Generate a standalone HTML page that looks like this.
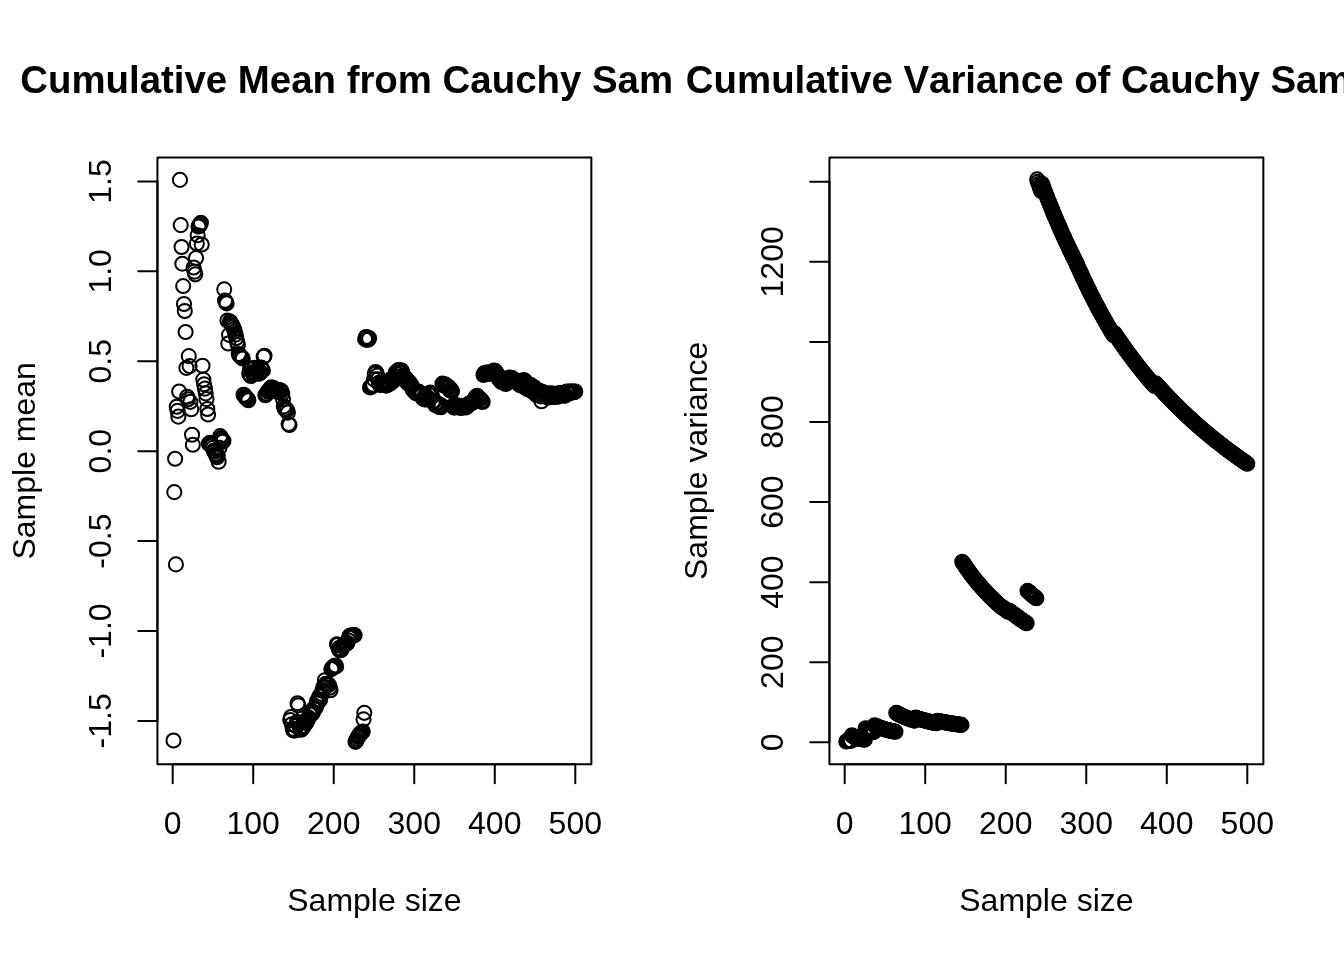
<!DOCTYPE html><html><head><meta charset="utf-8"><title>Cauchy</title><style>
html,body{margin:0;padding:0;background:#fff}svg{display:block;will-change:transform}
text{font-family:"Liberation Sans",sans-serif;fill:#000;font-kerning:none}
.a{font-size:32px}.t{font-size:38.4px;font-weight:bold}
.l{stroke:#000;stroke-width:2;fill:none;stroke-linecap:round;stroke-linejoin:round}
.p circle{stroke:#000;stroke-width:2;fill:none}
</style></head><body>
<svg width="1344" height="960" viewBox="0 0 1344 960">
<rect width="1344" height="960" fill="#fff"/>
<defs><clipPath id="c1"><rect x="0" y="0" width="672" height="960"/></clipPath><clipPath id="c2"><rect x="672" y="0" width="672" height="960"/></clipPath></defs>
<g class="p">
<circle cx="173.51" cy="740.46" r="7.05"/>
<circle cx="174.31" cy="492.13" r="7.05"/>
<circle cx="175.12" cy="458.72" r="7.05"/>
<circle cx="175.92" cy="564.38" r="7.05"/>
<circle cx="176.73" cy="406.80" r="7.05"/>
<circle cx="177.53" cy="410.87" r="7.05"/>
<circle cx="178.34" cy="416.64" r="7.05"/>
<circle cx="179.14" cy="391.54" r="7.05"/>
<circle cx="179.95" cy="179.88" r="7.05"/>
<circle cx="180.75" cy="225.10" r="7.05"/>
<circle cx="181.56" cy="246.99" r="7.05"/>
<circle cx="182.36" cy="263.68" r="7.05"/>
<circle cx="183.17" cy="286.07" r="7.05"/>
<circle cx="183.97" cy="303.95" r="7.05"/>
<circle cx="184.78" cy="310.99" r="7.05"/>
<circle cx="185.58" cy="331.94" r="7.05"/>
<circle cx="186.39" cy="367.88" r="7.05"/>
<circle cx="187.19" cy="396.78" r="7.05"/>
<circle cx="188.00" cy="399.31" r="7.05"/>
<circle cx="188.80" cy="356.14" r="7.05"/>
<circle cx="189.61" cy="366.08" r="7.05"/>
<circle cx="190.41" cy="401.83" r="7.05"/>
<circle cx="191.22" cy="409.24" r="7.05"/>
<circle cx="192.02" cy="434.70" r="7.05"/>
<circle cx="192.83" cy="444.82" r="7.05"/>
<circle cx="193.63" cy="267.47" r="7.05"/>
<circle cx="194.44" cy="271.62" r="7.05"/>
<circle cx="195.24" cy="274.33" r="7.05"/>
<circle cx="196.05" cy="258.08" r="7.05"/>
<circle cx="196.86" cy="243.45" r="7.05"/>
<circle cx="197.66" cy="235.32" r="7.05"/>
<circle cx="198.47" cy="226.47" r="7.05"/>
<circle cx="199.27" cy="225.75" r="7.05"/>
<circle cx="200.08" cy="224.31" r="7.05"/>
<circle cx="200.88" cy="222.75" r="7.05"/>
<circle cx="201.69" cy="244.53" r="7.05"/>
<circle cx="202.49" cy="365.81" r="7.05"/>
<circle cx="203.30" cy="379.62" r="7.05"/>
<circle cx="204.10" cy="384.32" r="7.05"/>
<circle cx="204.91" cy="388.65" r="7.05"/>
<circle cx="205.71" cy="393.35" r="7.05"/>
<circle cx="206.52" cy="399.13" r="7.05"/>
<circle cx="207.32" cy="409.06" r="7.05"/>
<circle cx="208.13" cy="414.48" r="7.05"/>
<circle cx="208.93" cy="443.73" r="7.05"/>
<circle cx="209.74" cy="442.83" r="7.05"/>
<circle cx="210.54" cy="444.28" r="7.05"/>
<circle cx="211.35" cy="446.08" r="7.05"/>
<circle cx="212.15" cy="445.00" r="7.05"/>
<circle cx="212.96" cy="447.89" r="7.05"/>
<circle cx="213.76" cy="450.60" r="7.05"/>
<circle cx="214.57" cy="451.50" r="7.05"/>
<circle cx="215.37" cy="453.67" r="7.05"/>
<circle cx="216.18" cy="455.11" r="7.05"/>
<circle cx="216.98" cy="457.28" r="7.05"/>
<circle cx="217.79" cy="455.47" r="7.05"/>
<circle cx="218.59" cy="461.79" r="7.05"/>
<circle cx="219.40" cy="447.89" r="7.05"/>
<circle cx="220.21" cy="436.15" r="7.05"/>
<circle cx="221.01" cy="437.95" r="7.05"/>
<circle cx="221.82" cy="439.58" r="7.05"/>
<circle cx="222.62" cy="441.75" r="7.05"/>
<circle cx="223.43" cy="440.75" r="7.05"/>
<circle cx="224.23" cy="289.32" r="7.05"/>
<circle cx="225.04" cy="300.61" r="7.05"/>
<circle cx="225.84" cy="301.96" r="7.05"/>
<circle cx="226.65" cy="303.41" r="7.05"/>
<circle cx="227.45" cy="320.49" r="7.05"/>
<circle cx="228.26" cy="343.50" r="7.05"/>
<circle cx="229.06" cy="334.83" r="7.05"/>
<circle cx="229.87" cy="321.47" r="7.05"/>
<circle cx="230.67" cy="322.37" r="7.05"/>
<circle cx="231.48" cy="323.88" r="7.05"/>
<circle cx="232.28" cy="325.38" r="7.05"/>
<circle cx="233.09" cy="326.89" r="7.05"/>
<circle cx="233.89" cy="329.05" r="7.05"/>
<circle cx="234.70" cy="331.22" r="7.05"/>
<circle cx="235.50" cy="334.65" r="7.05"/>
<circle cx="236.31" cy="338.08" r="7.05"/>
<circle cx="237.11" cy="341.88" r="7.05"/>
<circle cx="237.92" cy="344.95" r="7.05"/>
<circle cx="238.72" cy="353.98" r="7.05"/>
<circle cx="239.53" cy="355.42" r="7.05"/>
<circle cx="240.33" cy="356.14" r="7.05"/>
<circle cx="241.14" cy="356.69" r="7.05"/>
<circle cx="241.94" cy="357.59" r="7.05"/>
<circle cx="242.75" cy="358.49" r="7.05"/>
<circle cx="243.55" cy="394.69" r="7.05"/>
<circle cx="244.36" cy="395.22" r="7.05"/>
<circle cx="245.17" cy="396.95" r="7.05"/>
<circle cx="245.97" cy="397.80" r="7.05"/>
<circle cx="246.78" cy="398.33" r="7.05"/>
<circle cx="247.58" cy="398.94" r="7.05"/>
<circle cx="248.39" cy="400.31" r="7.05"/>
<circle cx="249.19" cy="373.83" r="7.05"/>
<circle cx="250.00" cy="368.38" r="7.05"/>
<circle cx="250.80" cy="376.00" r="7.05"/>
<circle cx="251.61" cy="368.53" r="7.05"/>
<circle cx="252.41" cy="373.03" r="7.05"/>
<circle cx="253.22" cy="374.09" r="7.05"/>
<circle cx="254.02" cy="372.32" r="7.05"/>
<circle cx="254.83" cy="367.81" r="7.05"/>
<circle cx="255.63" cy="373.21" r="7.05"/>
<circle cx="256.44" cy="369.63" r="7.05"/>
<circle cx="257.24" cy="371.34" r="7.05"/>
<circle cx="258.05" cy="369.61" r="7.05"/>
<circle cx="258.85" cy="373.61" r="7.05"/>
<circle cx="259.66" cy="373.43" r="7.05"/>
<circle cx="260.46" cy="371.95" r="7.05"/>
<circle cx="261.27" cy="367.63" r="7.05"/>
<circle cx="262.07" cy="369.62" r="7.05"/>
<circle cx="262.88" cy="370.40" r="7.05"/>
<circle cx="263.68" cy="356.69" r="7.05"/>
<circle cx="264.49" cy="355.78" r="7.05"/>
<circle cx="265.29" cy="395.27" r="7.05"/>
<circle cx="266.10" cy="394.45" r="7.05"/>
<circle cx="266.90" cy="393.68" r="7.05"/>
<circle cx="267.71" cy="391.33" r="7.05"/>
<circle cx="268.52" cy="391.74" r="7.05"/>
<circle cx="269.32" cy="389.88" r="7.05"/>
<circle cx="270.13" cy="389.12" r="7.05"/>
<circle cx="270.93" cy="387.63" r="7.05"/>
<circle cx="271.74" cy="389.20" r="7.05"/>
<circle cx="272.54" cy="387.50" r="7.05"/>
<circle cx="273.35" cy="390.30" r="7.05"/>
<circle cx="274.15" cy="389.73" r="7.05"/>
<circle cx="274.96" cy="389.05" r="7.05"/>
<circle cx="275.76" cy="390.13" r="7.05"/>
<circle cx="276.57" cy="391.63" r="7.05"/>
<circle cx="277.37" cy="390.02" r="7.05"/>
<circle cx="278.18" cy="389.95" r="7.05"/>
<circle cx="278.98" cy="390.71" r="7.05"/>
<circle cx="279.79" cy="390.04" r="7.05"/>
<circle cx="280.59" cy="391.87" r="7.05"/>
<circle cx="281.40" cy="390.98" r="7.05"/>
<circle cx="282.20" cy="393.71" r="7.05"/>
<circle cx="283.01" cy="399.13" r="7.05"/>
<circle cx="283.81" cy="406.35" r="7.05"/>
<circle cx="284.62" cy="408.52" r="7.05"/>
<circle cx="285.42" cy="409.24" r="7.05"/>
<circle cx="286.23" cy="409.60" r="7.05"/>
<circle cx="287.03" cy="409.96" r="7.05"/>
<circle cx="287.84" cy="412.67" r="7.05"/>
<circle cx="288.64" cy="424.05" r="7.05"/>
<circle cx="289.45" cy="424.95" r="7.05"/>
<circle cx="290.25" cy="720.05" r="7.05"/>
<circle cx="291.06" cy="716.98" r="7.05"/>
<circle cx="291.87" cy="724.21" r="7.05"/>
<circle cx="292.67" cy="728.72" r="7.05"/>
<circle cx="293.48" cy="730.53" r="7.05"/>
<circle cx="294.28" cy="729.62" r="7.05"/>
<circle cx="295.09" cy="730.53" r="7.05"/>
<circle cx="295.89" cy="726.01" r="7.05"/>
<circle cx="296.70" cy="722.40" r="7.05"/>
<circle cx="297.50" cy="703.26" r="7.05"/>
<circle cx="298.31" cy="705.24" r="7.05"/>
<circle cx="299.11" cy="722.40" r="7.05"/>
<circle cx="299.92" cy="727.82" r="7.05"/>
<circle cx="300.72" cy="729.62" r="7.05"/>
<circle cx="301.53" cy="729.44" r="7.05"/>
<circle cx="302.33" cy="727.71" r="7.05"/>
<circle cx="303.14" cy="726.65" r="7.05"/>
<circle cx="303.94" cy="726.26" r="7.05"/>
<circle cx="304.75" cy="722.75" r="7.05"/>
<circle cx="305.55" cy="720.96" r="7.05"/>
<circle cx="306.36" cy="722.69" r="7.05"/>
<circle cx="307.16" cy="720.38" r="7.05"/>
<circle cx="307.97" cy="719.00" r="7.05"/>
<circle cx="308.77" cy="717.58" r="7.05"/>
<circle cx="309.58" cy="713.71" r="7.05"/>
<circle cx="310.38" cy="713.02" r="7.05"/>
<circle cx="311.19" cy="714.57" r="7.05"/>
<circle cx="311.99" cy="712.21" r="7.05"/>
<circle cx="312.80" cy="712.69" r="7.05"/>
<circle cx="313.60" cy="708.64" r="7.05"/>
<circle cx="314.41" cy="709.09" r="7.05"/>
<circle cx="315.22" cy="708.05" r="7.05"/>
<circle cx="316.02" cy="707.05" r="7.05"/>
<circle cx="316.83" cy="701.34" r="7.05"/>
<circle cx="317.63" cy="703.18" r="7.05"/>
<circle cx="318.44" cy="700.80" r="7.05"/>
<circle cx="319.24" cy="696.34" r="7.05"/>
<circle cx="320.05" cy="699.69" r="7.05"/>
<circle cx="320.85" cy="695.92" r="7.05"/>
<circle cx="321.66" cy="693.80" r="7.05"/>
<circle cx="322.46" cy="690.64" r="7.05"/>
<circle cx="323.27" cy="687.21" r="7.05"/>
<circle cx="324.07" cy="686.80" r="7.05"/>
<circle cx="324.88" cy="680.31" r="7.05"/>
<circle cx="325.68" cy="683.91" r="7.05"/>
<circle cx="326.49" cy="684.66" r="7.05"/>
<circle cx="327.29" cy="685.21" r="7.05"/>
<circle cx="328.10" cy="684.57" r="7.05"/>
<circle cx="328.90" cy="684.83" r="7.05"/>
<circle cx="329.71" cy="687.74" r="7.05"/>
<circle cx="330.51" cy="690.23" r="7.05"/>
<circle cx="331.32" cy="669.12" r="7.05"/>
<circle cx="332.12" cy="668.22" r="7.05"/>
<circle cx="332.93" cy="667.32" r="7.05"/>
<circle cx="333.73" cy="666.41" r="7.05"/>
<circle cx="334.54" cy="666.41" r="7.05"/>
<circle cx="335.34" cy="665.51" r="7.05"/>
<circle cx="336.15" cy="666.41" r="7.05"/>
<circle cx="336.95" cy="644.20" r="7.05"/>
<circle cx="337.76" cy="644.74" r="7.05"/>
<circle cx="338.57" cy="648.35" r="7.05"/>
<circle cx="339.37" cy="650.16" r="7.05"/>
<circle cx="340.18" cy="650.16" r="7.05"/>
<circle cx="340.98" cy="650.16" r="7.05"/>
<circle cx="341.79" cy="649.26" r="7.05"/>
<circle cx="342.59" cy="646.55" r="7.05"/>
<circle cx="343.40" cy="644.74" r="7.05"/>
<circle cx="344.20" cy="644.38" r="7.05"/>
<circle cx="345.01" cy="644.02" r="7.05"/>
<circle cx="345.81" cy="643.66" r="7.05"/>
<circle cx="346.62" cy="643.30" r="7.05"/>
<circle cx="347.42" cy="642.94" r="7.05"/>
<circle cx="348.23" cy="640.23" r="7.05"/>
<circle cx="349.03" cy="637.52" r="7.05"/>
<circle cx="349.84" cy="635.71" r="7.05"/>
<circle cx="350.64" cy="635.62" r="7.05"/>
<circle cx="351.45" cy="635.53" r="7.05"/>
<circle cx="352.25" cy="635.44" r="7.05"/>
<circle cx="353.06" cy="635.35" r="7.05"/>
<circle cx="353.86" cy="635.26" r="7.05"/>
<circle cx="354.67" cy="635.17" r="7.05"/>
<circle cx="355.47" cy="741.90" r="7.05"/>
<circle cx="356.28" cy="740.46" r="7.05"/>
<circle cx="357.08" cy="738.65" r="7.05"/>
<circle cx="357.89" cy="736.85" r="7.05"/>
<circle cx="358.69" cy="735.94" r="7.05"/>
<circle cx="359.50" cy="735.04" r="7.05"/>
<circle cx="360.30" cy="733.24" r="7.05"/>
<circle cx="361.11" cy="733.24" r="7.05"/>
<circle cx="361.91" cy="732.33" r="7.05"/>
<circle cx="362.72" cy="731.43" r="7.05"/>
<circle cx="363.53" cy="719.33" r="7.05"/>
<circle cx="364.33" cy="712.83" r="7.05"/>
<circle cx="365.14" cy="339.17" r="7.05"/>
<circle cx="365.94" cy="337.00" r="7.05"/>
<circle cx="366.75" cy="339.89" r="7.05"/>
<circle cx="367.55" cy="337.54" r="7.05"/>
<circle cx="368.36" cy="339.53" r="7.05"/>
<circle cx="369.16" cy="338.26" r="7.05"/>
<circle cx="369.97" cy="387.39" r="7.05"/>
<circle cx="370.77" cy="386.85" r="7.05"/>
<circle cx="371.58" cy="386.48" r="7.05"/>
<circle cx="372.38" cy="386.12" r="7.05"/>
<circle cx="373.19" cy="384.68" r="7.05"/>
<circle cx="373.99" cy="379.26" r="7.05"/>
<circle cx="374.80" cy="373.84" r="7.05"/>
<circle cx="375.60" cy="372.04" r="7.05"/>
<circle cx="376.41" cy="372.94" r="7.05"/>
<circle cx="377.21" cy="375.65" r="7.05"/>
<circle cx="378.02" cy="379.26" r="7.05"/>
<circle cx="378.82" cy="382.87" r="7.05"/>
<circle cx="379.63" cy="384.68" r="7.05"/>
<circle cx="380.43" cy="383.77" r="7.05"/>
<circle cx="381.24" cy="385.01" r="7.05"/>
<circle cx="382.04" cy="384.02" r="7.05"/>
<circle cx="382.85" cy="385.04" r="7.05"/>
<circle cx="383.65" cy="384.38" r="7.05"/>
<circle cx="384.46" cy="384.83" r="7.05"/>
<circle cx="385.26" cy="383.91" r="7.05"/>
<circle cx="386.07" cy="385.61" r="7.05"/>
<circle cx="386.88" cy="383.28" r="7.05"/>
<circle cx="387.68" cy="384.85" r="7.05"/>
<circle cx="388.49" cy="383.95" r="7.05"/>
<circle cx="389.29" cy="383.08" r="7.05"/>
<circle cx="390.10" cy="383.60" r="7.05"/>
<circle cx="390.90" cy="379.78" r="7.05"/>
<circle cx="391.71" cy="378.48" r="7.05"/>
<circle cx="392.51" cy="380.08" r="7.05"/>
<circle cx="393.32" cy="381.05" r="7.05"/>
<circle cx="394.12" cy="379.18" r="7.05"/>
<circle cx="394.93" cy="376.33" r="7.05"/>
<circle cx="395.73" cy="372.42" r="7.05"/>
<circle cx="396.54" cy="374.11" r="7.05"/>
<circle cx="397.34" cy="373.50" r="7.05"/>
<circle cx="398.15" cy="370.11" r="7.05"/>
<circle cx="398.95" cy="372.06" r="7.05"/>
<circle cx="399.76" cy="370.64" r="7.05"/>
<circle cx="400.56" cy="371.01" r="7.05"/>
<circle cx="401.37" cy="370.26" r="7.05"/>
<circle cx="402.17" cy="371.97" r="7.05"/>
<circle cx="402.98" cy="375.78" r="7.05"/>
<circle cx="403.78" cy="376.68" r="7.05"/>
<circle cx="404.59" cy="378.90" r="7.05"/>
<circle cx="405.39" cy="377.63" r="7.05"/>
<circle cx="406.20" cy="378.95" r="7.05"/>
<circle cx="407.00" cy="381.92" r="7.05"/>
<circle cx="407.81" cy="383.40" r="7.05"/>
<circle cx="408.61" cy="381.86" r="7.05"/>
<circle cx="409.42" cy="382.12" r="7.05"/>
<circle cx="410.23" cy="383.71" r="7.05"/>
<circle cx="411.03" cy="384.93" r="7.05"/>
<circle cx="411.84" cy="385.89" r="7.05"/>
<circle cx="412.64" cy="389.47" r="7.05"/>
<circle cx="413.45" cy="388.91" r="7.05"/>
<circle cx="414.25" cy="390.31" r="7.05"/>
<circle cx="415.06" cy="392.42" r="7.05"/>
<circle cx="415.86" cy="393.11" r="7.05"/>
<circle cx="416.67" cy="392.72" r="7.05"/>
<circle cx="417.47" cy="393.50" r="7.05"/>
<circle cx="418.28" cy="392.32" r="7.05"/>
<circle cx="419.08" cy="391.87" r="7.05"/>
<circle cx="419.89" cy="394.77" r="7.05"/>
<circle cx="420.69" cy="393.34" r="7.05"/>
<circle cx="421.50" cy="393.82" r="7.05"/>
<circle cx="422.30" cy="394.65" r="7.05"/>
<circle cx="423.11" cy="398.53" r="7.05"/>
<circle cx="423.91" cy="398.80" r="7.05"/>
<circle cx="424.72" cy="399.24" r="7.05"/>
<circle cx="425.52" cy="399.50" r="7.05"/>
<circle cx="426.33" cy="397.99" r="7.05"/>
<circle cx="427.13" cy="397.09" r="7.05"/>
<circle cx="427.94" cy="397.65" r="7.05"/>
<circle cx="428.74" cy="394.61" r="7.05"/>
<circle cx="429.55" cy="393.35" r="7.05"/>
<circle cx="430.35" cy="392.62" r="7.05"/>
<circle cx="431.16" cy="393.71" r="7.05"/>
<circle cx="431.96" cy="395.51" r="7.05"/>
<circle cx="432.77" cy="401.68" r="7.05"/>
<circle cx="433.58" cy="401.44" r="7.05"/>
<circle cx="434.38" cy="401.33" r="7.05"/>
<circle cx="435.19" cy="404.94" r="7.05"/>
<circle cx="435.99" cy="402.97" r="7.05"/>
<circle cx="436.80" cy="402.96" r="7.05"/>
<circle cx="437.60" cy="403.58" r="7.05"/>
<circle cx="438.41" cy="405.24" r="7.05"/>
<circle cx="439.21" cy="407.02" r="7.05"/>
<circle cx="440.02" cy="404.86" r="7.05"/>
<circle cx="440.82" cy="407.32" r="7.05"/>
<circle cx="441.63" cy="405.77" r="7.05"/>
<circle cx="442.43" cy="383.66" r="7.05"/>
<circle cx="443.24" cy="385.08" r="7.05"/>
<circle cx="444.04" cy="385.25" r="7.05"/>
<circle cx="444.85" cy="384.25" r="7.05"/>
<circle cx="445.65" cy="384.91" r="7.05"/>
<circle cx="446.46" cy="386.39" r="7.05"/>
<circle cx="447.26" cy="387.24" r="7.05"/>
<circle cx="448.07" cy="386.51" r="7.05"/>
<circle cx="448.87" cy="387.63" r="7.05"/>
<circle cx="449.68" cy="389.96" r="7.05"/>
<circle cx="450.48" cy="389.06" r="7.05"/>
<circle cx="451.29" cy="390.21" r="7.05"/>
<circle cx="452.09" cy="391.32" r="7.05"/>
<circle cx="452.90" cy="405.85" r="7.05"/>
<circle cx="453.70" cy="407.19" r="7.05"/>
<circle cx="454.51" cy="407.66" r="7.05"/>
<circle cx="455.31" cy="405.03" r="7.05"/>
<circle cx="456.12" cy="406.10" r="7.05"/>
<circle cx="456.93" cy="406.59" r="7.05"/>
<circle cx="457.73" cy="405.55" r="7.05"/>
<circle cx="458.54" cy="407.13" r="7.05"/>
<circle cx="459.34" cy="406.13" r="7.05"/>
<circle cx="460.15" cy="407.83" r="7.05"/>
<circle cx="460.95" cy="407.63" r="7.05"/>
<circle cx="461.76" cy="407.43" r="7.05"/>
<circle cx="462.56" cy="407.50" r="7.05"/>
<circle cx="463.37" cy="406.42" r="7.05"/>
<circle cx="464.17" cy="407.29" r="7.05"/>
<circle cx="464.98" cy="406.74" r="7.05"/>
<circle cx="465.78" cy="407.50" r="7.05"/>
<circle cx="466.59" cy="406.77" r="7.05"/>
<circle cx="467.39" cy="405.93" r="7.05"/>
<circle cx="468.20" cy="405.03" r="7.05"/>
<circle cx="469.00" cy="403.56" r="7.05"/>
<circle cx="469.81" cy="404.41" r="7.05"/>
<circle cx="470.61" cy="403.64" r="7.05"/>
<circle cx="471.42" cy="402.65" r="7.05"/>
<circle cx="472.22" cy="401.77" r="7.05"/>
<circle cx="473.03" cy="402.32" r="7.05"/>
<circle cx="473.83" cy="400.94" r="7.05"/>
<circle cx="474.64" cy="400.56" r="7.05"/>
<circle cx="475.44" cy="397.36" r="7.05"/>
<circle cx="476.25" cy="398.27" r="7.05"/>
<circle cx="477.05" cy="395.77" r="7.05"/>
<circle cx="477.86" cy="397.16" r="7.05"/>
<circle cx="478.66" cy="398.73" r="7.05"/>
<circle cx="479.47" cy="398.97" r="7.05"/>
<circle cx="480.27" cy="398.85" r="7.05"/>
<circle cx="481.08" cy="401.35" r="7.05"/>
<circle cx="481.89" cy="400.58" r="7.05"/>
<circle cx="482.69" cy="402.02" r="7.05"/>
<circle cx="483.50" cy="375.01" r="7.05"/>
<circle cx="484.30" cy="373.16" r="7.05"/>
<circle cx="485.11" cy="374.05" r="7.05"/>
<circle cx="485.91" cy="373.80" r="7.05"/>
<circle cx="486.72" cy="373.02" r="7.05"/>
<circle cx="487.52" cy="372.41" r="7.05"/>
<circle cx="488.33" cy="373.44" r="7.05"/>
<circle cx="489.13" cy="373.60" r="7.05"/>
<circle cx="489.94" cy="373.35" r="7.05"/>
<circle cx="490.74" cy="372.47" r="7.05"/>
<circle cx="491.55" cy="373.11" r="7.05"/>
<circle cx="492.35" cy="372.59" r="7.05"/>
<circle cx="493.16" cy="372.57" r="7.05"/>
<circle cx="493.96" cy="370.67" r="7.05"/>
<circle cx="494.77" cy="370.68" r="7.05"/>
<circle cx="495.57" cy="371.52" r="7.05"/>
<circle cx="496.38" cy="375.07" r="7.05"/>
<circle cx="497.18" cy="375.07" r="7.05"/>
<circle cx="497.99" cy="374.77" r="7.05"/>
<circle cx="498.79" cy="378.76" r="7.05"/>
<circle cx="499.60" cy="379.72" r="7.05"/>
<circle cx="500.40" cy="379.47" r="7.05"/>
<circle cx="501.21" cy="381.71" r="7.05"/>
<circle cx="502.01" cy="382.00" r="7.05"/>
<circle cx="502.82" cy="381.36" r="7.05"/>
<circle cx="503.62" cy="381.17" r="7.05"/>
<circle cx="504.43" cy="380.99" r="7.05"/>
<circle cx="505.24" cy="383.89" r="7.05"/>
<circle cx="506.04" cy="382.29" r="7.05"/>
<circle cx="506.85" cy="383.26" r="7.05"/>
<circle cx="507.65" cy="379.68" r="7.05"/>
<circle cx="508.46" cy="378.47" r="7.05"/>
<circle cx="509.26" cy="377.63" r="7.05"/>
<circle cx="510.07" cy="379.76" r="7.05"/>
<circle cx="510.87" cy="379.56" r="7.05"/>
<circle cx="511.68" cy="377.88" r="7.05"/>
<circle cx="512.48" cy="378.58" r="7.05"/>
<circle cx="513.29" cy="381.13" r="7.05"/>
<circle cx="514.09" cy="380.28" r="7.05"/>
<circle cx="514.90" cy="380.74" r="7.05"/>
<circle cx="515.70" cy="381.62" r="7.05"/>
<circle cx="516.51" cy="381.54" r="7.05"/>
<circle cx="517.31" cy="380.44" r="7.05"/>
<circle cx="518.12" cy="383.34" r="7.05"/>
<circle cx="518.92" cy="381.50" r="7.05"/>
<circle cx="519.73" cy="384.98" r="7.05"/>
<circle cx="520.53" cy="383.15" r="7.05"/>
<circle cx="521.34" cy="381.47" r="7.05"/>
<circle cx="522.14" cy="382.71" r="7.05"/>
<circle cx="522.95" cy="386.38" r="7.05"/>
<circle cx="523.75" cy="380.16" r="7.05"/>
<circle cx="524.56" cy="382.02" r="7.05"/>
<circle cx="525.36" cy="381.13" r="7.05"/>
<circle cx="526.17" cy="387.82" r="7.05"/>
<circle cx="526.97" cy="388.73" r="7.05"/>
<circle cx="527.78" cy="383.93" r="7.05"/>
<circle cx="528.59" cy="388.14" r="7.05"/>
<circle cx="529.39" cy="389.70" r="7.05"/>
<circle cx="530.20" cy="388.13" r="7.05"/>
<circle cx="531.00" cy="385.14" r="7.05"/>
<circle cx="531.81" cy="386.35" r="7.05"/>
<circle cx="532.61" cy="390.94" r="7.05"/>
<circle cx="533.42" cy="392.27" r="7.05"/>
<circle cx="534.22" cy="387.25" r="7.05"/>
<circle cx="535.03" cy="389.37" r="7.05"/>
<circle cx="535.83" cy="394.36" r="7.05"/>
<circle cx="536.64" cy="395.17" r="7.05"/>
<circle cx="537.44" cy="391.19" r="7.05"/>
<circle cx="538.25" cy="393.67" r="7.05"/>
<circle cx="539.05" cy="390.54" r="7.05"/>
<circle cx="539.86" cy="394.09" r="7.05"/>
<circle cx="540.66" cy="396.42" r="7.05"/>
<circle cx="541.47" cy="401.29" r="7.05"/>
<circle cx="542.27" cy="391.90" r="7.05"/>
<circle cx="543.08" cy="392.62" r="7.05"/>
<circle cx="543.88" cy="394.07" r="7.05"/>
<circle cx="544.69" cy="392.99" r="7.05"/>
<circle cx="545.49" cy="395.15" r="7.05"/>
<circle cx="546.30" cy="393.68" r="7.05"/>
<circle cx="547.10" cy="397.36" r="7.05"/>
<circle cx="547.91" cy="393.51" r="7.05"/>
<circle cx="548.71" cy="397.55" r="7.05"/>
<circle cx="549.52" cy="393.58" r="7.05"/>
<circle cx="550.32" cy="395.70" r="7.05"/>
<circle cx="551.13" cy="395.25" r="7.05"/>
<circle cx="551.94" cy="393.23" r="7.05"/>
<circle cx="552.74" cy="396.44" r="7.05"/>
<circle cx="553.55" cy="397.01" r="7.05"/>
<circle cx="554.35" cy="394.87" r="7.05"/>
<circle cx="555.16" cy="396.20" r="7.05"/>
<circle cx="555.96" cy="396.73" r="7.05"/>
<circle cx="556.77" cy="396.34" r="7.05"/>
<circle cx="557.57" cy="396.78" r="7.05"/>
<circle cx="558.38" cy="395.88" r="7.05"/>
<circle cx="559.18" cy="395.24" r="7.05"/>
<circle cx="559.99" cy="392.78" r="7.05"/>
<circle cx="560.79" cy="394.99" r="7.05"/>
<circle cx="561.60" cy="393.76" r="7.05"/>
<circle cx="562.40" cy="395.23" r="7.05"/>
<circle cx="563.21" cy="394.21" r="7.05"/>
<circle cx="564.01" cy="395.71" r="7.05"/>
<circle cx="564.82" cy="394.37" r="7.05"/>
<circle cx="565.62" cy="395.40" r="7.05"/>
<circle cx="566.43" cy="391.61" r="7.05"/>
<circle cx="567.23" cy="393.30" r="7.05"/>
<circle cx="568.04" cy="392.61" r="7.05"/>
<circle cx="568.84" cy="391.54" r="7.05"/>
<circle cx="569.65" cy="393.26" r="7.05"/>
<circle cx="570.45" cy="391.64" r="7.05"/>
<circle cx="571.26" cy="392.41" r="7.05"/>
<circle cx="572.06" cy="392.20" r="7.05"/>
<circle cx="572.87" cy="391.39" r="7.05"/>
<circle cx="573.67" cy="392.28" r="7.05"/>
<circle cx="574.48" cy="391.96" r="7.05"/>
<circle cx="575.29" cy="391.50" r="7.05"/>
</g>
<rect class="l" x="157.44" y="157.44" width="433.92" height="606.72"/>
<path class="l" d="M172.70 764.16H575.29M172.70 764.16v19.2M253.22 764.16v19.2M333.73 764.16v19.2M414.25 764.16v19.2M494.77 764.16v19.2M575.29 764.16v19.2"/>
<text class="a" x="172.70" y="833.5" text-anchor="middle">0</text>
<text class="a" x="253.22" y="833.5" text-anchor="middle">100</text>
<text class="a" x="333.73" y="833.5" text-anchor="middle">200</text>
<text class="a" x="414.25" y="833.5" text-anchor="middle">300</text>
<text class="a" x="494.77" y="833.5" text-anchor="middle">400</text>
<text class="a" x="575.29" y="833.5" text-anchor="middle">500</text>
<path class="l" d="M157.44 720.89V181.46M157.44 720.89h-19.2M157.44 630.99h-19.2M157.44 541.09h-19.2M157.44 451.18h-19.2M157.44 361.27h-19.2M157.44 271.37h-19.2M157.44 181.46h-19.2"/>
<text class="a" transform="translate(111.00 720.89) rotate(-90)" text-anchor="middle">-1.5</text>
<text class="a" transform="translate(111.00 630.99) rotate(-90)" text-anchor="middle">-1.0</text>
<text class="a" transform="translate(111.00 541.09) rotate(-90)" text-anchor="middle">-0.5</text>
<text class="a" transform="translate(111.00 451.18) rotate(-90)" text-anchor="middle">0.0</text>
<text class="a" transform="translate(111.00 361.27) rotate(-90)" text-anchor="middle">0.5</text>
<text class="a" transform="translate(111.00 271.37) rotate(-90)" text-anchor="middle">1.0</text>
<text class="a" transform="translate(111.00 181.46) rotate(-90)" text-anchor="middle">1.5</text>
<text class="a" x="374.40" y="910.5" text-anchor="middle">Sample size</text>
<text class="a" transform="translate(34.50 460.8) rotate(-90)" text-anchor="middle">Sample mean</text>
<g clip-path="url(#c1)"><text class="t" x="374.40" y="92.5" text-anchor="middle">Cumulative Mean from Cauchy Sample</text></g>
<g class="p">
<circle cx="846.31" cy="741.50" r="7.05"/>
<circle cx="847.12" cy="740.70" r="7.05"/>
<circle cx="847.92" cy="740.50" r="7.05"/>
<circle cx="848.73" cy="740.30" r="7.05"/>
<circle cx="849.53" cy="740.50" r="7.05"/>
<circle cx="850.34" cy="740.58" r="7.05"/>
<circle cx="851.14" cy="740.70" r="7.05"/>
<circle cx="851.95" cy="735.29" r="7.05"/>
<circle cx="852.75" cy="736.01" r="7.05"/>
<circle cx="853.56" cy="736.58" r="7.05"/>
<circle cx="854.36" cy="737.05" r="7.05"/>
<circle cx="855.17" cy="737.44" r="7.05"/>
<circle cx="855.97" cy="737.77" r="7.05"/>
<circle cx="856.78" cy="738.05" r="7.05"/>
<circle cx="857.58" cy="738.30" r="7.05"/>
<circle cx="858.39" cy="738.51" r="7.05"/>
<circle cx="859.19" cy="738.70" r="7.05"/>
<circle cx="860.00" cy="738.87" r="7.05"/>
<circle cx="860.80" cy="739.02" r="7.05"/>
<circle cx="861.61" cy="739.15" r="7.05"/>
<circle cx="862.41" cy="739.27" r="7.05"/>
<circle cx="863.22" cy="739.38" r="7.05"/>
<circle cx="864.02" cy="739.48" r="7.05"/>
<circle cx="864.83" cy="739.58" r="7.05"/>
<circle cx="865.63" cy="728.28" r="7.05"/>
<circle cx="866.44" cy="728.80" r="7.05"/>
<circle cx="867.24" cy="729.28" r="7.05"/>
<circle cx="868.05" cy="729.73" r="7.05"/>
<circle cx="868.86" cy="730.14" r="7.05"/>
<circle cx="869.66" cy="730.53" r="7.05"/>
<circle cx="870.47" cy="730.89" r="7.05"/>
<circle cx="871.27" cy="731.23" r="7.05"/>
<circle cx="872.08" cy="731.55" r="7.05"/>
<circle cx="872.88" cy="731.85" r="7.05"/>
<circle cx="873.69" cy="732.13" r="7.05"/>
<circle cx="874.49" cy="725.40" r="7.05"/>
<circle cx="875.30" cy="725.78" r="7.05"/>
<circle cx="876.10" cy="726.15" r="7.05"/>
<circle cx="876.91" cy="726.50" r="7.05"/>
<circle cx="877.71" cy="726.84" r="7.05"/>
<circle cx="878.52" cy="727.16" r="7.05"/>
<circle cx="879.32" cy="727.46" r="7.05"/>
<circle cx="880.13" cy="727.76" r="7.05"/>
<circle cx="880.93" cy="728.04" r="7.05"/>
<circle cx="881.74" cy="728.31" r="7.05"/>
<circle cx="882.54" cy="728.57" r="7.05"/>
<circle cx="883.35" cy="728.82" r="7.05"/>
<circle cx="884.15" cy="729.06" r="7.05"/>
<circle cx="884.96" cy="729.29" r="7.05"/>
<circle cx="885.76" cy="729.52" r="7.05"/>
<circle cx="886.57" cy="729.73" r="7.05"/>
<circle cx="887.37" cy="729.94" r="7.05"/>
<circle cx="888.18" cy="730.14" r="7.05"/>
<circle cx="888.98" cy="730.34" r="7.05"/>
<circle cx="889.79" cy="730.53" r="7.05"/>
<circle cx="890.59" cy="730.71" r="7.05"/>
<circle cx="891.40" cy="730.89" r="7.05"/>
<circle cx="892.21" cy="731.06" r="7.05"/>
<circle cx="893.01" cy="731.22" r="7.05"/>
<circle cx="893.82" cy="731.38" r="7.05"/>
<circle cx="894.62" cy="731.54" r="7.05"/>
<circle cx="895.43" cy="731.69" r="7.05"/>
<circle cx="896.23" cy="712.86" r="7.05"/>
<circle cx="897.04" cy="713.32" r="7.05"/>
<circle cx="897.84" cy="713.77" r="7.05"/>
<circle cx="898.65" cy="714.20" r="7.05"/>
<circle cx="899.45" cy="714.61" r="7.05"/>
<circle cx="900.26" cy="715.02" r="7.05"/>
<circle cx="901.06" cy="715.41" r="7.05"/>
<circle cx="901.87" cy="715.79" r="7.05"/>
<circle cx="902.67" cy="716.16" r="7.05"/>
<circle cx="903.48" cy="716.52" r="7.05"/>
<circle cx="904.28" cy="716.87" r="7.05"/>
<circle cx="905.09" cy="717.21" r="7.05"/>
<circle cx="905.89" cy="717.54" r="7.05"/>
<circle cx="906.70" cy="717.87" r="7.05"/>
<circle cx="907.50" cy="718.18" r="7.05"/>
<circle cx="908.31" cy="718.49" r="7.05"/>
<circle cx="909.11" cy="718.78" r="7.05"/>
<circle cx="909.92" cy="719.08" r="7.05"/>
<circle cx="910.72" cy="719.36" r="7.05"/>
<circle cx="911.53" cy="719.63" r="7.05"/>
<circle cx="912.33" cy="719.90" r="7.05"/>
<circle cx="913.14" cy="720.17" r="7.05"/>
<circle cx="913.94" cy="720.42" r="7.05"/>
<circle cx="914.75" cy="720.67" r="7.05"/>
<circle cx="915.55" cy="717.67" r="7.05"/>
<circle cx="916.36" cy="717.95" r="7.05"/>
<circle cx="917.17" cy="718.22" r="7.05"/>
<circle cx="917.97" cy="718.49" r="7.05"/>
<circle cx="918.78" cy="718.74" r="7.05"/>
<circle cx="919.58" cy="719.00" r="7.05"/>
<circle cx="920.39" cy="719.25" r="7.05"/>
<circle cx="921.19" cy="719.49" r="7.05"/>
<circle cx="922.00" cy="719.73" r="7.05"/>
<circle cx="922.80" cy="719.96" r="7.05"/>
<circle cx="923.61" cy="720.19" r="7.05"/>
<circle cx="924.41" cy="720.41" r="7.05"/>
<circle cx="925.22" cy="720.63" r="7.05"/>
<circle cx="926.02" cy="720.84" r="7.05"/>
<circle cx="926.83" cy="721.05" r="7.05"/>
<circle cx="927.63" cy="721.26" r="7.05"/>
<circle cx="928.44" cy="721.46" r="7.05"/>
<circle cx="929.24" cy="721.66" r="7.05"/>
<circle cx="930.05" cy="721.85" r="7.05"/>
<circle cx="930.85" cy="722.04" r="7.05"/>
<circle cx="931.66" cy="722.23" r="7.05"/>
<circle cx="932.46" cy="722.41" r="7.05"/>
<circle cx="933.27" cy="722.59" r="7.05"/>
<circle cx="934.07" cy="722.77" r="7.05"/>
<circle cx="934.88" cy="722.94" r="7.05"/>
<circle cx="935.68" cy="723.11" r="7.05"/>
<circle cx="936.49" cy="723.28" r="7.05"/>
<circle cx="937.29" cy="720.87" r="7.05"/>
<circle cx="938.10" cy="721.04" r="7.05"/>
<circle cx="938.90" cy="721.20" r="7.05"/>
<circle cx="939.71" cy="721.36" r="7.05"/>
<circle cx="940.52" cy="721.51" r="7.05"/>
<circle cx="941.32" cy="721.67" r="7.05"/>
<circle cx="942.13" cy="721.82" r="7.05"/>
<circle cx="942.93" cy="721.97" r="7.05"/>
<circle cx="943.74" cy="722.12" r="7.05"/>
<circle cx="944.54" cy="722.26" r="7.05"/>
<circle cx="945.35" cy="722.41" r="7.05"/>
<circle cx="946.15" cy="722.55" r="7.05"/>
<circle cx="946.96" cy="722.68" r="7.05"/>
<circle cx="947.76" cy="722.82" r="7.05"/>
<circle cx="948.57" cy="722.96" r="7.05"/>
<circle cx="949.37" cy="723.09" r="7.05"/>
<circle cx="950.18" cy="723.22" r="7.05"/>
<circle cx="950.98" cy="723.35" r="7.05"/>
<circle cx="951.79" cy="723.48" r="7.05"/>
<circle cx="952.59" cy="723.60" r="7.05"/>
<circle cx="953.40" cy="723.73" r="7.05"/>
<circle cx="954.20" cy="723.85" r="7.05"/>
<circle cx="955.01" cy="723.97" r="7.05"/>
<circle cx="955.81" cy="724.09" r="7.05"/>
<circle cx="956.62" cy="724.21" r="7.05"/>
<circle cx="957.42" cy="724.32" r="7.05"/>
<circle cx="958.23" cy="724.44" r="7.05"/>
<circle cx="959.03" cy="724.55" r="7.05"/>
<circle cx="959.84" cy="724.66" r="7.05"/>
<circle cx="960.64" cy="724.77" r="7.05"/>
<circle cx="961.45" cy="724.88" r="7.05"/>
<circle cx="962.25" cy="561.72" r="7.05"/>
<circle cx="963.06" cy="562.95" r="7.05"/>
<circle cx="963.87" cy="564.16" r="7.05"/>
<circle cx="964.67" cy="565.36" r="7.05"/>
<circle cx="965.48" cy="566.55" r="7.05"/>
<circle cx="966.28" cy="567.71" r="7.05"/>
<circle cx="967.09" cy="568.86" r="7.05"/>
<circle cx="967.89" cy="570.00" r="7.05"/>
<circle cx="968.70" cy="571.12" r="7.05"/>
<circle cx="969.50" cy="572.23" r="7.05"/>
<circle cx="970.31" cy="573.32" r="7.05"/>
<circle cx="971.11" cy="574.40" r="7.05"/>
<circle cx="971.92" cy="575.47" r="7.05"/>
<circle cx="972.72" cy="576.52" r="7.05"/>
<circle cx="973.53" cy="577.56" r="7.05"/>
<circle cx="974.33" cy="578.58" r="7.05"/>
<circle cx="975.14" cy="579.60" r="7.05"/>
<circle cx="975.94" cy="580.60" r="7.05"/>
<circle cx="976.75" cy="581.58" r="7.05"/>
<circle cx="977.55" cy="582.56" r="7.05"/>
<circle cx="978.36" cy="583.52" r="7.05"/>
<circle cx="979.16" cy="584.48" r="7.05"/>
<circle cx="979.97" cy="585.42" r="7.05"/>
<circle cx="980.77" cy="586.35" r="7.05"/>
<circle cx="981.58" cy="587.27" r="7.05"/>
<circle cx="982.38" cy="588.18" r="7.05"/>
<circle cx="983.19" cy="589.07" r="7.05"/>
<circle cx="983.99" cy="589.96" r="7.05"/>
<circle cx="984.80" cy="590.84" r="7.05"/>
<circle cx="985.60" cy="591.70" r="7.05"/>
<circle cx="986.41" cy="592.56" r="7.05"/>
<circle cx="987.22" cy="593.41" r="7.05"/>
<circle cx="988.02" cy="594.25" r="7.05"/>
<circle cx="988.83" cy="595.07" r="7.05"/>
<circle cx="989.63" cy="595.89" r="7.05"/>
<circle cx="990.44" cy="596.70" r="7.05"/>
<circle cx="991.24" cy="597.50" r="7.05"/>
<circle cx="992.05" cy="598.30" r="7.05"/>
<circle cx="992.85" cy="599.08" r="7.05"/>
<circle cx="993.66" cy="599.85" r="7.05"/>
<circle cx="994.46" cy="600.62" r="7.05"/>
<circle cx="995.27" cy="601.38" r="7.05"/>
<circle cx="996.07" cy="602.13" r="7.05"/>
<circle cx="996.88" cy="602.87" r="7.05"/>
<circle cx="997.68" cy="603.60" r="7.05"/>
<circle cx="998.49" cy="604.33" r="7.05"/>
<circle cx="999.29" cy="605.05" r="7.05"/>
<circle cx="1000.10" cy="605.76" r="7.05"/>
<circle cx="1000.90" cy="606.47" r="7.05"/>
<circle cx="1001.71" cy="607.16" r="7.05"/>
<circle cx="1002.51" cy="607.85" r="7.05"/>
<circle cx="1003.32" cy="607.69" r="7.05"/>
<circle cx="1004.12" cy="608.40" r="7.05"/>
<circle cx="1004.93" cy="609.10" r="7.05"/>
<circle cx="1005.73" cy="609.79" r="7.05"/>
<circle cx="1006.54" cy="610.47" r="7.05"/>
<circle cx="1007.34" cy="611.15" r="7.05"/>
<circle cx="1008.15" cy="611.82" r="7.05"/>
<circle cx="1008.95" cy="610.46" r="7.05"/>
<circle cx="1009.76" cy="611.10" r="7.05"/>
<circle cx="1010.57" cy="611.74" r="7.05"/>
<circle cx="1011.37" cy="612.37" r="7.05"/>
<circle cx="1012.18" cy="613.00" r="7.05"/>
<circle cx="1012.98" cy="613.62" r="7.05"/>
<circle cx="1013.79" cy="614.23" r="7.05"/>
<circle cx="1014.59" cy="614.84" r="7.05"/>
<circle cx="1015.40" cy="615.44" r="7.05"/>
<circle cx="1016.20" cy="616.04" r="7.05"/>
<circle cx="1017.01" cy="616.63" r="7.05"/>
<circle cx="1017.81" cy="617.22" r="7.05"/>
<circle cx="1018.62" cy="617.80" r="7.05"/>
<circle cx="1019.42" cy="618.37" r="7.05"/>
<circle cx="1020.23" cy="618.94" r="7.05"/>
<circle cx="1021.03" cy="619.50" r="7.05"/>
<circle cx="1021.84" cy="620.06" r="7.05"/>
<circle cx="1022.64" cy="620.62" r="7.05"/>
<circle cx="1023.45" cy="621.17" r="7.05"/>
<circle cx="1024.25" cy="621.71" r="7.05"/>
<circle cx="1025.06" cy="622.25" r="7.05"/>
<circle cx="1025.86" cy="622.78" r="7.05"/>
<circle cx="1026.67" cy="623.31" r="7.05"/>
<circle cx="1027.47" cy="590.83" r="7.05"/>
<circle cx="1028.28" cy="591.54" r="7.05"/>
<circle cx="1029.08" cy="592.25" r="7.05"/>
<circle cx="1029.89" cy="592.95" r="7.05"/>
<circle cx="1030.69" cy="593.64" r="7.05"/>
<circle cx="1031.50" cy="594.33" r="7.05"/>
<circle cx="1032.30" cy="595.01" r="7.05"/>
<circle cx="1033.11" cy="595.69" r="7.05"/>
<circle cx="1033.91" cy="596.35" r="7.05"/>
<circle cx="1034.72" cy="597.02" r="7.05"/>
<circle cx="1035.53" cy="597.67" r="7.05"/>
<circle cx="1036.33" cy="598.32" r="7.05"/>
<circle cx="1037.14" cy="179.40" r="7.05"/>
<circle cx="1037.94" cy="181.76" r="7.05"/>
<circle cx="1038.75" cy="184.10" r="7.05"/>
<circle cx="1039.55" cy="186.42" r="7.05"/>
<circle cx="1040.36" cy="188.73" r="7.05"/>
<circle cx="1041.16" cy="191.01" r="7.05"/>
<circle cx="1041.97" cy="183.80" r="7.05"/>
<circle cx="1042.77" cy="185.96" r="7.05"/>
<circle cx="1043.58" cy="188.09" r="7.05"/>
<circle cx="1044.38" cy="190.22" r="7.05"/>
<circle cx="1045.19" cy="192.32" r="7.05"/>
<circle cx="1045.99" cy="194.41" r="7.05"/>
<circle cx="1046.80" cy="196.48" r="7.05"/>
<circle cx="1047.60" cy="198.54" r="7.05"/>
<circle cx="1048.41" cy="200.58" r="7.05"/>
<circle cx="1049.21" cy="202.61" r="7.05"/>
<circle cx="1050.02" cy="204.62" r="7.05"/>
<circle cx="1050.82" cy="206.61" r="7.05"/>
<circle cx="1051.63" cy="208.60" r="7.05"/>
<circle cx="1052.43" cy="210.56" r="7.05"/>
<circle cx="1053.24" cy="212.52" r="7.05"/>
<circle cx="1054.04" cy="214.45" r="7.05"/>
<circle cx="1054.85" cy="216.38" r="7.05"/>
<circle cx="1055.65" cy="218.29" r="7.05"/>
<circle cx="1056.46" cy="220.18" r="7.05"/>
<circle cx="1057.26" cy="222.07" r="7.05"/>
<circle cx="1058.07" cy="223.94" r="7.05"/>
<circle cx="1058.88" cy="225.79" r="7.05"/>
<circle cx="1059.68" cy="227.63" r="7.05"/>
<circle cx="1060.49" cy="229.46" r="7.05"/>
<circle cx="1061.29" cy="231.28" r="7.05"/>
<circle cx="1062.10" cy="233.08" r="7.05"/>
<circle cx="1062.90" cy="234.87" r="7.05"/>
<circle cx="1063.71" cy="236.65" r="7.05"/>
<circle cx="1064.51" cy="238.42" r="7.05"/>
<circle cx="1065.32" cy="240.17" r="7.05"/>
<circle cx="1066.12" cy="241.91" r="7.05"/>
<circle cx="1066.93" cy="243.64" r="7.05"/>
<circle cx="1067.73" cy="245.36" r="7.05"/>
<circle cx="1068.54" cy="247.06" r="7.05"/>
<circle cx="1069.34" cy="248.76" r="7.05"/>
<circle cx="1070.15" cy="250.44" r="7.05"/>
<circle cx="1070.95" cy="252.11" r="7.05"/>
<circle cx="1071.76" cy="253.77" r="7.05"/>
<circle cx="1072.56" cy="255.42" r="7.05"/>
<circle cx="1073.37" cy="257.06" r="7.05"/>
<circle cx="1074.17" cy="258.68" r="7.05"/>
<circle cx="1074.98" cy="260.30" r="7.05"/>
<circle cx="1075.78" cy="261.90" r="7.05"/>
<circle cx="1076.59" cy="263.73" r="7.05"/>
<circle cx="1077.39" cy="265.55" r="7.05"/>
<circle cx="1078.20" cy="267.36" r="7.05"/>
<circle cx="1079.00" cy="269.15" r="7.05"/>
<circle cx="1079.81" cy="270.93" r="7.05"/>
<circle cx="1080.61" cy="272.70" r="7.05"/>
<circle cx="1081.42" cy="274.45" r="7.05"/>
<circle cx="1082.23" cy="276.19" r="7.05"/>
<circle cx="1083.03" cy="277.91" r="7.05"/>
<circle cx="1083.84" cy="279.63" r="7.05"/>
<circle cx="1084.64" cy="281.33" r="7.05"/>
<circle cx="1085.45" cy="283.02" r="7.05"/>
<circle cx="1086.25" cy="284.69" r="7.05"/>
<circle cx="1087.06" cy="286.36" r="7.05"/>
<circle cx="1087.86" cy="288.01" r="7.05"/>
<circle cx="1088.67" cy="289.65" r="7.05"/>
<circle cx="1089.47" cy="291.27" r="7.05"/>
<circle cx="1090.28" cy="292.89" r="7.05"/>
<circle cx="1091.08" cy="294.50" r="7.05"/>
<circle cx="1091.89" cy="296.09" r="7.05"/>
<circle cx="1092.69" cy="297.67" r="7.05"/>
<circle cx="1093.50" cy="299.24" r="7.05"/>
<circle cx="1094.30" cy="300.80" r="7.05"/>
<circle cx="1095.11" cy="302.35" r="7.05"/>
<circle cx="1095.91" cy="303.89" r="7.05"/>
<circle cx="1096.72" cy="305.42" r="7.05"/>
<circle cx="1097.52" cy="306.93" r="7.05"/>
<circle cx="1098.33" cy="308.44" r="7.05"/>
<circle cx="1099.13" cy="309.93" r="7.05"/>
<circle cx="1099.94" cy="311.42" r="7.05"/>
<circle cx="1100.74" cy="312.89" r="7.05"/>
<circle cx="1101.55" cy="314.36" r="7.05"/>
<circle cx="1102.35" cy="315.81" r="7.05"/>
<circle cx="1103.16" cy="317.26" r="7.05"/>
<circle cx="1103.96" cy="318.69" r="7.05"/>
<circle cx="1104.77" cy="320.12" r="7.05"/>
<circle cx="1105.58" cy="321.54" r="7.05"/>
<circle cx="1106.38" cy="322.94" r="7.05"/>
<circle cx="1107.19" cy="324.34" r="7.05"/>
<circle cx="1107.99" cy="325.73" r="7.05"/>
<circle cx="1108.80" cy="327.11" r="7.05"/>
<circle cx="1109.60" cy="328.48" r="7.05"/>
<circle cx="1110.41" cy="329.84" r="7.05"/>
<circle cx="1111.21" cy="331.19" r="7.05"/>
<circle cx="1112.02" cy="332.53" r="7.05"/>
<circle cx="1112.82" cy="333.87" r="7.05"/>
<circle cx="1113.63" cy="335.19" r="7.05"/>
<circle cx="1114.43" cy="333.19" r="7.05"/>
<circle cx="1115.24" cy="334.40" r="7.05"/>
<circle cx="1116.04" cy="335.60" r="7.05"/>
<circle cx="1116.85" cy="336.80" r="7.05"/>
<circle cx="1117.65" cy="337.99" r="7.05"/>
<circle cx="1118.46" cy="339.17" r="7.05"/>
<circle cx="1119.26" cy="340.35" r="7.05"/>
<circle cx="1120.07" cy="341.52" r="7.05"/>
<circle cx="1120.87" cy="342.68" r="7.05"/>
<circle cx="1121.68" cy="343.84" r="7.05"/>
<circle cx="1122.48" cy="344.98" r="7.05"/>
<circle cx="1123.29" cy="346.13" r="7.05"/>
<circle cx="1124.09" cy="347.26" r="7.05"/>
<circle cx="1124.90" cy="348.39" r="7.05"/>
<circle cx="1125.70" cy="349.51" r="7.05"/>
<circle cx="1126.51" cy="350.63" r="7.05"/>
<circle cx="1127.31" cy="351.74" r="7.05"/>
<circle cx="1128.12" cy="352.84" r="7.05"/>
<circle cx="1128.93" cy="353.94" r="7.05"/>
<circle cx="1129.73" cy="355.03" r="7.05"/>
<circle cx="1130.54" cy="356.12" r="7.05"/>
<circle cx="1131.34" cy="357.20" r="7.05"/>
<circle cx="1132.15" cy="358.27" r="7.05"/>
<circle cx="1132.95" cy="359.34" r="7.05"/>
<circle cx="1133.76" cy="360.40" r="7.05"/>
<circle cx="1134.56" cy="361.45" r="7.05"/>
<circle cx="1135.37" cy="362.50" r="7.05"/>
<circle cx="1136.17" cy="363.54" r="7.05"/>
<circle cx="1136.98" cy="364.58" r="7.05"/>
<circle cx="1137.78" cy="365.61" r="7.05"/>
<circle cx="1138.59" cy="366.64" r="7.05"/>
<circle cx="1139.39" cy="367.66" r="7.05"/>
<circle cx="1140.20" cy="368.68" r="7.05"/>
<circle cx="1141.00" cy="369.69" r="7.05"/>
<circle cx="1141.81" cy="370.69" r="7.05"/>
<circle cx="1142.61" cy="371.69" r="7.05"/>
<circle cx="1143.42" cy="372.68" r="7.05"/>
<circle cx="1144.22" cy="373.67" r="7.05"/>
<circle cx="1145.03" cy="374.66" r="7.05"/>
<circle cx="1145.83" cy="375.63" r="7.05"/>
<circle cx="1146.64" cy="376.61" r="7.05"/>
<circle cx="1147.44" cy="377.57" r="7.05"/>
<circle cx="1148.25" cy="378.54" r="7.05"/>
<circle cx="1149.05" cy="379.49" r="7.05"/>
<circle cx="1149.86" cy="380.45" r="7.05"/>
<circle cx="1150.66" cy="381.39" r="7.05"/>
<circle cx="1151.47" cy="382.34" r="7.05"/>
<circle cx="1152.27" cy="383.27" r="7.05"/>
<circle cx="1153.08" cy="384.21" r="7.05"/>
<circle cx="1153.89" cy="385.13" r="7.05"/>
<circle cx="1154.69" cy="386.06" r="7.05"/>
<circle cx="1155.50" cy="383.25" r="7.05"/>
<circle cx="1156.30" cy="384.16" r="7.05"/>
<circle cx="1157.11" cy="385.06" r="7.05"/>
<circle cx="1157.91" cy="385.96" r="7.05"/>
<circle cx="1158.72" cy="386.86" r="7.05"/>
<circle cx="1159.52" cy="387.75" r="7.05"/>
<circle cx="1160.33" cy="388.63" r="7.05"/>
<circle cx="1161.13" cy="389.52" r="7.05"/>
<circle cx="1161.94" cy="390.39" r="7.05"/>
<circle cx="1162.74" cy="391.27" r="7.05"/>
<circle cx="1163.55" cy="392.13" r="7.05"/>
<circle cx="1164.35" cy="393.00" r="7.05"/>
<circle cx="1165.16" cy="393.86" r="7.05"/>
<circle cx="1165.96" cy="394.71" r="7.05"/>
<circle cx="1166.77" cy="395.56" r="7.05"/>
<circle cx="1167.57" cy="396.41" r="7.05"/>
<circle cx="1168.38" cy="397.25" r="7.05"/>
<circle cx="1169.18" cy="398.09" r="7.05"/>
<circle cx="1169.99" cy="398.93" r="7.05"/>
<circle cx="1170.79" cy="399.76" r="7.05"/>
<circle cx="1171.60" cy="400.59" r="7.05"/>
<circle cx="1172.40" cy="401.41" r="7.05"/>
<circle cx="1173.21" cy="402.23" r="7.05"/>
<circle cx="1174.01" cy="403.04" r="7.05"/>
<circle cx="1174.82" cy="403.85" r="7.05"/>
<circle cx="1175.62" cy="404.66" r="7.05"/>
<circle cx="1176.43" cy="405.46" r="7.05"/>
<circle cx="1177.24" cy="406.26" r="7.05"/>
<circle cx="1178.04" cy="407.06" r="7.05"/>
<circle cx="1178.85" cy="407.85" r="7.05"/>
<circle cx="1179.65" cy="408.64" r="7.05"/>
<circle cx="1180.46" cy="409.42" r="7.05"/>
<circle cx="1181.26" cy="410.20" r="7.05"/>
<circle cx="1182.07" cy="410.98" r="7.05"/>
<circle cx="1182.87" cy="411.75" r="7.05"/>
<circle cx="1183.68" cy="412.52" r="7.05"/>
<circle cx="1184.48" cy="413.29" r="7.05"/>
<circle cx="1185.29" cy="414.05" r="7.05"/>
<circle cx="1186.09" cy="414.81" r="7.05"/>
<circle cx="1186.90" cy="415.57" r="7.05"/>
<circle cx="1187.70" cy="416.32" r="7.05"/>
<circle cx="1188.51" cy="417.07" r="7.05"/>
<circle cx="1189.31" cy="417.81" r="7.05"/>
<circle cx="1190.12" cy="418.55" r="7.05"/>
<circle cx="1190.92" cy="419.29" r="7.05"/>
<circle cx="1191.73" cy="420.03" r="7.05"/>
<circle cx="1192.53" cy="420.76" r="7.05"/>
<circle cx="1193.34" cy="421.49" r="7.05"/>
<circle cx="1194.14" cy="422.21" r="7.05"/>
<circle cx="1194.95" cy="422.93" r="7.05"/>
<circle cx="1195.75" cy="423.65" r="7.05"/>
<circle cx="1196.56" cy="424.37" r="7.05"/>
<circle cx="1197.36" cy="425.08" r="7.05"/>
<circle cx="1198.17" cy="425.79" r="7.05"/>
<circle cx="1198.97" cy="426.50" r="7.05"/>
<circle cx="1199.78" cy="427.20" r="7.05"/>
<circle cx="1200.59" cy="427.90" r="7.05"/>
<circle cx="1201.39" cy="428.59" r="7.05"/>
<circle cx="1202.20" cy="429.29" r="7.05"/>
<circle cx="1203.00" cy="429.98" r="7.05"/>
<circle cx="1203.81" cy="430.66" r="7.05"/>
<circle cx="1204.61" cy="431.35" r="7.05"/>
<circle cx="1205.42" cy="432.03" r="7.05"/>
<circle cx="1206.22" cy="432.71" r="7.05"/>
<circle cx="1207.03" cy="433.38" r="7.05"/>
<circle cx="1207.83" cy="434.06" r="7.05"/>
<circle cx="1208.64" cy="434.73" r="7.05"/>
<circle cx="1209.44" cy="435.39" r="7.05"/>
<circle cx="1210.25" cy="436.06" r="7.05"/>
<circle cx="1211.05" cy="436.72" r="7.05"/>
<circle cx="1211.86" cy="437.37" r="7.05"/>
<circle cx="1212.66" cy="438.03" r="7.05"/>
<circle cx="1213.47" cy="438.68" r="7.05"/>
<circle cx="1214.27" cy="439.33" r="7.05"/>
<circle cx="1215.08" cy="439.98" r="7.05"/>
<circle cx="1215.88" cy="440.62" r="7.05"/>
<circle cx="1216.69" cy="441.26" r="7.05"/>
<circle cx="1217.49" cy="441.90" r="7.05"/>
<circle cx="1218.30" cy="442.54" r="7.05"/>
<circle cx="1219.10" cy="443.17" r="7.05"/>
<circle cx="1219.91" cy="443.80" r="7.05"/>
<circle cx="1220.71" cy="444.43" r="7.05"/>
<circle cx="1221.52" cy="445.05" r="7.05"/>
<circle cx="1222.32" cy="445.67" r="7.05"/>
<circle cx="1223.13" cy="446.29" r="7.05"/>
<circle cx="1223.94" cy="446.91" r="7.05"/>
<circle cx="1224.74" cy="447.53" r="7.05"/>
<circle cx="1225.55" cy="448.14" r="7.05"/>
<circle cx="1226.35" cy="448.75" r="7.05"/>
<circle cx="1227.16" cy="449.35" r="7.05"/>
<circle cx="1227.96" cy="449.96" r="7.05"/>
<circle cx="1228.77" cy="450.56" r="7.05"/>
<circle cx="1229.57" cy="451.16" r="7.05"/>
<circle cx="1230.38" cy="451.76" r="7.05"/>
<circle cx="1231.18" cy="452.35" r="7.05"/>
<circle cx="1231.99" cy="452.94" r="7.05"/>
<circle cx="1232.79" cy="453.53" r="7.05"/>
<circle cx="1233.60" cy="454.12" r="7.05"/>
<circle cx="1234.40" cy="454.71" r="7.05"/>
<circle cx="1235.21" cy="455.29" r="7.05"/>
<circle cx="1236.01" cy="455.87" r="7.05"/>
<circle cx="1236.82" cy="456.45" r="7.05"/>
<circle cx="1237.62" cy="457.02" r="7.05"/>
<circle cx="1238.43" cy="457.60" r="7.05"/>
<circle cx="1239.23" cy="458.17" r="7.05"/>
<circle cx="1240.04" cy="458.74" r="7.05"/>
<circle cx="1240.84" cy="459.30" r="7.05"/>
<circle cx="1241.65" cy="459.87" r="7.05"/>
<circle cx="1242.45" cy="460.43" r="7.05"/>
<circle cx="1243.26" cy="460.99" r="7.05"/>
<circle cx="1244.06" cy="461.55" r="7.05"/>
<circle cx="1244.87" cy="462.10" r="7.05"/>
<circle cx="1245.67" cy="462.65" r="7.05"/>
<circle cx="1246.48" cy="463.20" r="7.05"/>
<circle cx="1247.29" cy="463.75" r="7.05"/>
</g>
<rect class="l" x="829.44" y="157.44" width="433.92" height="606.72"/>
<path class="l" d="M844.70 764.16H1247.29M844.70 764.16v19.2M925.22 764.16v19.2M1005.73 764.16v19.2M1086.25 764.16v19.2M1166.77 764.16v19.2M1247.29 764.16v19.2"/>
<text class="a" x="844.70" y="833.5" text-anchor="middle">0</text>
<text class="a" x="925.22" y="833.5" text-anchor="middle">100</text>
<text class="a" x="1005.73" y="833.5" text-anchor="middle">200</text>
<text class="a" x="1086.25" y="833.5" text-anchor="middle">300</text>
<text class="a" x="1166.77" y="833.5" text-anchor="middle">400</text>
<text class="a" x="1247.29" y="833.5" text-anchor="middle">500</text>
<path class="l" d="M829.44 742.30V181.75M829.44 742.30h-19.2M829.44 662.22h-19.2M829.44 582.14h-19.2M829.44 502.07h-19.2M829.44 421.99h-19.2M829.44 341.91h-19.2M829.44 261.83h-19.2M829.44 181.75h-19.2"/>
<text class="a" transform="translate(783.00 742.30) rotate(-90)" text-anchor="middle">0</text>
<text class="a" transform="translate(783.00 662.22) rotate(-90)" text-anchor="middle">200</text>
<text class="a" transform="translate(783.00 582.14) rotate(-90)" text-anchor="middle">400</text>
<text class="a" transform="translate(783.00 502.07) rotate(-90)" text-anchor="middle">600</text>
<text class="a" transform="translate(783.00 421.99) rotate(-90)" text-anchor="middle">800</text>
<text class="a" transform="translate(783.00 261.83) rotate(-90)" text-anchor="middle">1200</text>
<text class="a" x="1046.40" y="910.5" text-anchor="middle">Sample size</text>
<text class="a" transform="translate(706.50 460.8) rotate(-90)" text-anchor="middle">Sample variance</text>
<g clip-path="url(#c2)"><text class="t" x="1046.40" y="92.5" text-anchor="middle">Cumulative Variance of Cauchy Sample</text></g>
</svg></body></html>
